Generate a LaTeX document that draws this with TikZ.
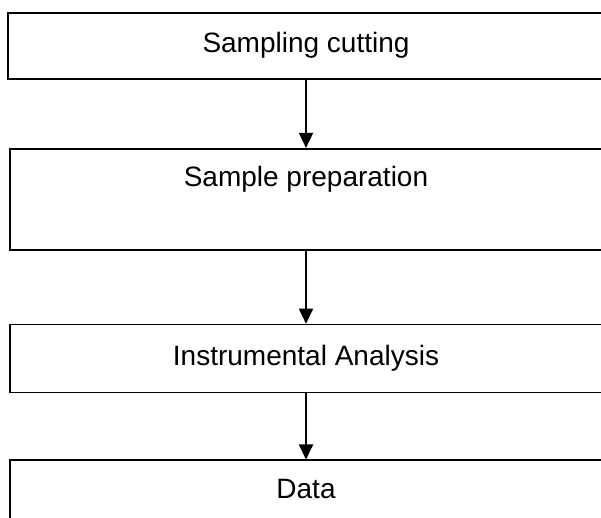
\documentclass[tikz,border=0pt]{standalone}
\usepackage{fontspec}
\setmainfont{Liberation Sans}
\usetikzlibrary{arrows.meta}
\usetikzlibrary{positioning}

\begin{document}
\begin{tikzpicture}[x=1pt,y=1pt]
    \tikzstyle{box} = [rectangle, draw, line width=1.8pt, text height=20pt, text depth=6pt, font=\fontsize{28}{34}\selectfont]
    \tikzstyle{steparrow} = [-{Triangle[length=15pt,width=14pt]}, line width=1.8pt]
    \useasboundingbox (0,0) rectangle (601,518);
    \clip (0,0) rectangle (601,518);
        %%% boxes %%%
        \node[box,minimum width=596pt,minimum height=66pt] (cutting) at (306,472) {Sampling cutting};
        \node[box,minimum width=592pt,minimum height=101pt,text depth=45pt,below=68pt of cutting] (prep) {Sample preparation};
        \node[box,minimum width=592pt,minimum height=68pt,below=73pt of prep] (analysis) {Instrumental Analysis};
        \node[box,minimum width=592pt,minimum height=62pt,below=66pt of analysis] (data) {Data};
        %%% arrows
        \draw[steparrow] (cutting) -- (prep);
        \draw[steparrow] (prep) -- (analysis);
        \draw[steparrow] (analysis) -- (data);
    \end{tikzpicture}
\end{document}
